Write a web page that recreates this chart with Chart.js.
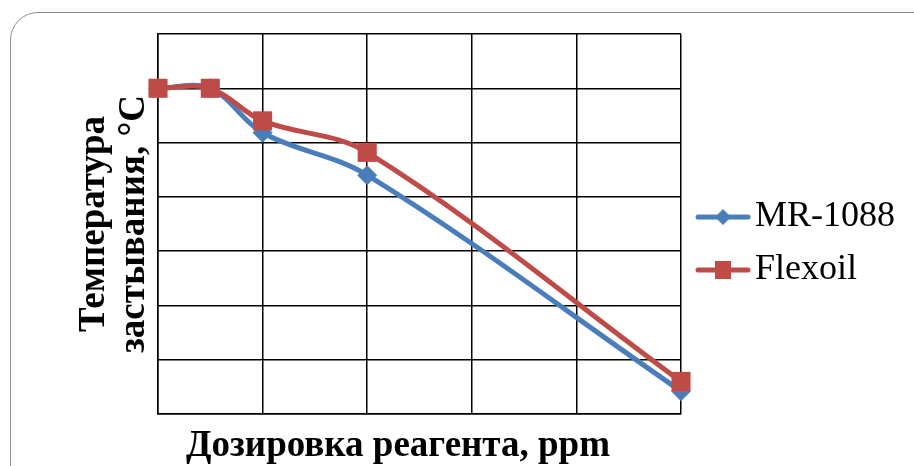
<!DOCTYPE html>
<html lang="ru">
<head>
<meta charset="utf-8">
<title>Температура застывания</title>
<script src="https://cdn.jsdelivr.net/npm/chart.js@4.4.1/dist/chart.umd.min.js"></script>
<style>
  html, body { margin: 0; padding: 0; background: #fff; overflow: hidden; }
  #wrap { position: relative; width: 914px; height: 466px; }
  #frame {
    position: absolute; left: 10px; top: 12px; width: 960px; height: 500px;
    border: 1.5px solid #8c8c8c; border-radius: 28px; pointer-events: none;
  }
</style>
</head>
<body>
<div id="wrap">
  <canvas id="pourChart" width="914" height="466"></canvas>
  <div id="frame"></div>
</div>
<script>
'use strict';

// Dosage of the reagent, ppm
const dosage = [0, 25, 50, 100, 250];
// Pour point, °C
const mr1088 = [-5, -5, -9.1, -13, -32.9];
const flexoil = [-5, -5, -8, -10.9, -32];

const seriesNames = ['MR-1088', 'Flexoil'];
const blue = '#4a7ebb';
const red = '#be4b48';

const serif = '"Liberation Serif", "Times New Roman", serif';

// Small canvas used as the legend icon: a line with the marker on it
function makeLegendIcon(color, marker) {
  let c = document.createElement('canvas');
  c.width = 56;
  c.height = 24;
  let g = c.getContext('2d');
  g.strokeStyle = color;
  g.lineWidth = 5;
  g.lineCap = 'round';
  g.beginPath();
  g.moveTo(3, 12);
  g.lineTo(53, 12);
  g.stroke();
  g.fillStyle = color;
  g.beginPath();
  if (marker === 'diamond') {
    g.moveTo(28, 4);
    g.lineTo(36, 12);
    g.lineTo(28, 20);
    g.lineTo(20, 12);
    g.closePath();
  } else {
    g.rect(20, 3, 16, 18);
  }
  g.fill();
  return c;
}

let legendIcons = [makeLegendIcon(blue, 'diamond'), makeLegendIcon(red, 'square')];

function toPoints(ys) {
  let pts = [];
  for (let i = 0; i < dosage.length; i++) {
    pts.push({ x: dosage[i], y: ys[i] });
  }
  return pts;
}

// x axis caption, drawn under the plot slightly left of its centre
const xCaption = {
  id: 'xCaption',
  afterDraw(chart) {
    let ctx = chart.ctx;
    ctx.save();
    ctx.font = 'bold 37px ' + serif;
    ctx.fillStyle = '#000';
    ctx.textAlign = 'center';
    ctx.textBaseline = 'alphabetic';
    ctx.fillText('Дозировка реагента, ppm', 398, 456);
    ctx.restore();
  }
};

let ctx = document.getElementById('pourChart').getContext('2d');

new Chart(ctx, {
  type: 'line',
  data: {
    datasets: [
      {
        label: seriesNames[0],
        data: toPoints(mr1088),
        borderColor: blue,
        backgroundColor: blue,
        borderWidth: 5,
        pointStyle: 'rectRot',
        pointRadius: 10,
        pointBorderWidth: 0,
        tension: 0.35,
        clip: false,
        order: 1
      },
      {
        label: seriesNames[1],
        data: toPoints(flexoil),
        borderColor: red,
        backgroundColor: red,
        borderWidth: 5,
        pointStyle: 'rect',
        pointRadius: 13.5,
        pointBorderWidth: 0,
        tension: 0.35,
        clip: false,
        order: 0
      }
    ]
  },
  options: {
    responsive: false,
    animation: false,
    layout: {
      padding: { top: 34, bottom: 24, left: 0, right: 9 }
    },
    scales: {
      x: {
        type: 'linear',
        min: 0,
        max: 250,
        ticks: { display: false, stepSize: 50 },
        grid: { color: '#000', lineWidth: 1.5, drawTicks: false },
        border: { color: '#000', width: 1.5 },
        afterFit(scale) { scale.height = 28; }
      },
      y: {
        min: -35,
        max: 0,
        ticks: { display: false, stepSize: 5 },
        grid: { color: '#000', lineWidth: 1.5, drawTicks: false },
        border: { color: '#000', width: 1.5 },
        title: {
          display: true,
          text: ['Температура', 'застывания, °С'],
          color: '#000',
          font: { family: serif, size: 37, weight: 'bold', lineHeight: 1.08 },
          padding: { top: 74, bottom: 0 }
        },
        afterFit(scale) { scale.width = 158; }
      }
    },
    plugins: {
      legend: {
        position: 'right',
        labels: {
          usePointStyle: true,
          boxWidth: 28,
          pointStyleWidth: 28,
          padding: 28,
          color: '#000',
          font: { family: serif, size: 36, lineHeight: 0.694 },
          generateLabels(chart) {
            return chart.data.datasets.map(function (ds, i) {
              return {
                text: [ds.label],
                pointStyle: legendIcons[i],
                fillStyle: ds.borderColor,
                strokeStyle: ds.borderColor,
                lineWidth: 0,
                fontColor: '#000',
                hidden: false,
                datasetIndex: i
              };
            });
          }
        }
      },
      tooltip: { enabled: false }
    }
  },
  plugins: [xCaption]
});
</script>
</body>
</html>
